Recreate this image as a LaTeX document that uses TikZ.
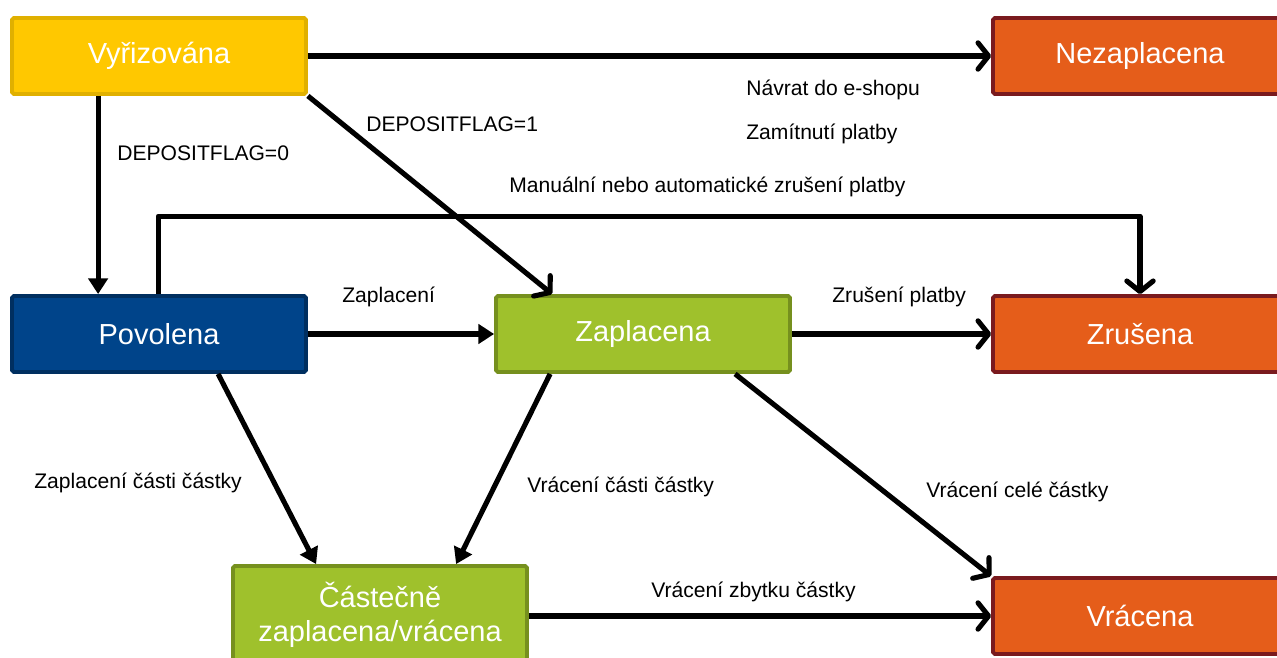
\documentclass[tikz,border=0pt]{standalone}
\usepackage{fontspec}
\setmainfont{Liberation Sans}
\usetikzlibrary{arrows.meta,calc}
\definecolor{yfill}{HTML}{FFC800}
\definecolor{ydraw}{HTML}{E0B000}
\definecolor{ofill}{HTML}{E55D1A}
\definecolor{odraw}{HTML}{7A1A1E}
\definecolor{bfill}{HTML}{00448A}
\definecolor{bdraw}{HTML}{002F60}
\definecolor{gfill}{HTML}{9FC12C}
\definecolor{gdraw}{HTML}{76901E}
\tikzset{
  stbox/.style={rectangle, rounded corners=1pt, line width=2.2pt, minimum width=5.88cm, minimum height=1.52cm, inner sep=0pt, text=white, font=\fontsize{16.5}{19}\selectfont, align=center},
  ybox/.style={stbox, fill=yfill, draw=ydraw},
  obox/.style={stbox, fill=ofill, draw=odraw},
  bbox/.style={stbox, fill=bfill, draw=bdraw},
  gbox/.style={stbox, fill=gfill, draw=gdraw},
  conn/.style={line width=2.9pt, line join=round},
  tri/.style={conn, -{Triangle[length=9pt,width=11pt]}},
  barb/.style={conn, -{Straight Barb[length=6pt,width=15pt,round]}},
  lbl/.style={anchor=west, inner sep=0pt, font=\fontsize{12}{14}\selectfont}
}
\begin{document}
\begin{tikzpicture}[x=0.02cm,y=-0.02cm]
\useasboundingbox (0,0) rectangle (1277,658);
\node[ybox] (vyr) at (159,56) {Vyřizována};
\node[obox] (nez) at (1140,56) {Nezaplacena};
\node[bbox] (pov) at (159,334) {Povolena};
\node[gbox] (zap) at (643,334) {Zaplacena};
\node[obox] (zru) at (1140,334) {Zrušena};
\node[gbox, minimum height=1.96cm] (cas) at (380,615) {Částečně\\zaplacena/vrácena};
\node[obox] (vra) at (1140,616) {Vrácena};

\draw[barb] (vyr.east) -- (nez.west);
\draw[tri] ($(vyr.south west)+(88,0)$) -- ($(pov.north west)+(88,0)$);
\draw[barb] (vyr.south east) -- ($(zap.north west)+(58,0)$);
\draw[barb] ($(pov.north west)+(148,0)$) -- ++(0,-78) -| (zru.north);
\draw[tri] (pov.east) -- (zap.west);
\draw[barb] (zap.east) -- (zru.west);
\draw[tri] ($(pov.south west)+(208,0)$) -- ($(cas.north west)+(85,0)$);
\draw[tri] ($(zap.south west)+(56,0)$) -- ($(cas.north west)+(225,0)$);
\draw[barb] ($(zap.south west)+(241,0)$) -- (vra.north west);
\draw[barb] (cas.east |- vra.west) -- (vra.west);

\node[lbl] (l1) at (746,90) {Návrat do e-shopu};
\node[lbl] (l2) at (746,134) {Zamítnutí platby};
\node[lbl] (l3) at (366,124) {DEPOSITFLAG=1};
\node[lbl] (l4) at (117,153) {DEPOSITFLAG=0};
\node[lbl] (l5) at (509,187) {Manuální nebo automatické zrušení platby};
\node[lbl] (l6) at (342,297) {Zaplacení};
\node[lbl] (l7) at (832,297) {Zrušení platby};
\node[lbl] (l8) at (34,483) {Zaplacení části částky};
\node[lbl] (l9) at (527,487) {Vrácení části částky};
\node[lbl] (l10) at (926,492) {Vrácení celé částky};
\node[lbl] (l11) at (651,592) {Vrácení zbytku částky};
\end{tikzpicture}
\end{document}
